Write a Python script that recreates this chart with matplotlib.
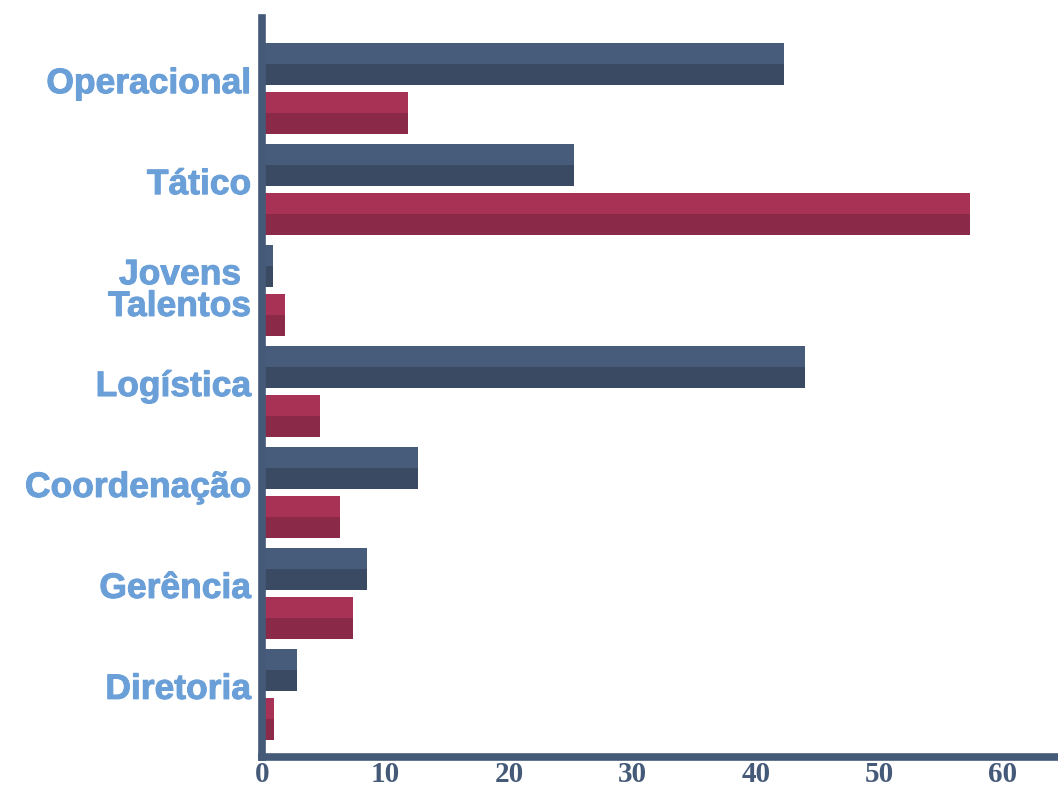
import numpy as np
import matplotlib.pyplot as plt
import matplotlib.transforms as mtransforms
import matplotlib.patheffects as pe

categories = ['Operacional', 'Tático', 'Jovens \nTalentos', 'Logística',
              'Coordenação', 'Gerência', 'Diretoria']
blue_values = [42.3, 25.3, 0.9, 44.0, 12.6, 8.5, 2.8]
red_values = [11.8, 57.3, 1.9, 4.7, 6.3, 7.4, 1.0]
x_ticks = [0, 10, 20, 30, 40, 50, 60]


def two_tone_barh(ax, y, values, height, light, dark):
    # upper half lighter, lower half darker (y axis is inverted)
    ax.barh(y - height / 2, values, height=height / 2, align='edge',
            color=light, linewidth=0, zorder=2)
    ax.barh(y, values, height=height / 2, align='edge',
            color=dark, linewidth=0, zorder=2)


def main():
    spine_color = '#455a78'
    label_color = '#6a9fd8'
    blue_light, blue_dark = '#475c7a', '#3a4a63'
    red_light, red_dark = '#a83256', '#8a2a48'

    fig = plt.figure(figsize=(10.58, 7.86), dpi=100)
    ax = fig.add_axes([262 / 1058, 1 - 757 / 786, (1058 - 262) / 1058, (757 - 18) / 786])

    y = np.arange(len(categories))
    offset = 0.243
    h = 0.416
    two_tone_barh(ax, y - offset, blue_values, h, blue_light, blue_dark)
    two_tone_barh(ax, y + offset, red_values, h, red_light, red_dark)

    ax.set_xlim(0, (1058 - 262) / 12.35)
    ax.set_ylim(6.62, -0.70)

    for side in ['top', 'right']:
        ax.spines[side].set_visible(False)
    for side in ['left', 'bottom']:
        ax.spines[side].set_color(spine_color)
        ax.spines[side].set_linewidth(5.5)
        ax.spines[side].set_zorder(3)

    # category labels drawn by hand, single lines sit a little above centre
    ax.set_yticks([])
    heavy = [pe.withStroke(linewidth=0.7, foreground=label_color)]
    for yi, name in zip(y, categories):
        dy = 5 if '\n' not in name else 0
        tr = ax.get_yaxis_transform() + mtransforms.ScaledTranslation(
            -11 / 100, dy / 100, fig.dpi_scale_trans)
        ax.text(0, yi, name, transform=tr, ha='right', va='center',
                multialignment='right', fontsize=25.5, fontweight='bold',
                family='Liberation Sans', color=label_color,
                linespacing=0.95, path_effects=heavy)

    ax.set_xticks(x_ticks)
    ax.set_xticklabels([str(t) for t in x_ticks], fontsize=21, fontweight='bold',
                       family='Liberation Serif', color=spine_color)
    ax.tick_params(axis='both', length=0)
    ax.tick_params(axis='x', pad=3)

    fig.savefig('out.png', dpi=100)
    plt.close(fig)


if __name__ == "__main__":
    main()
